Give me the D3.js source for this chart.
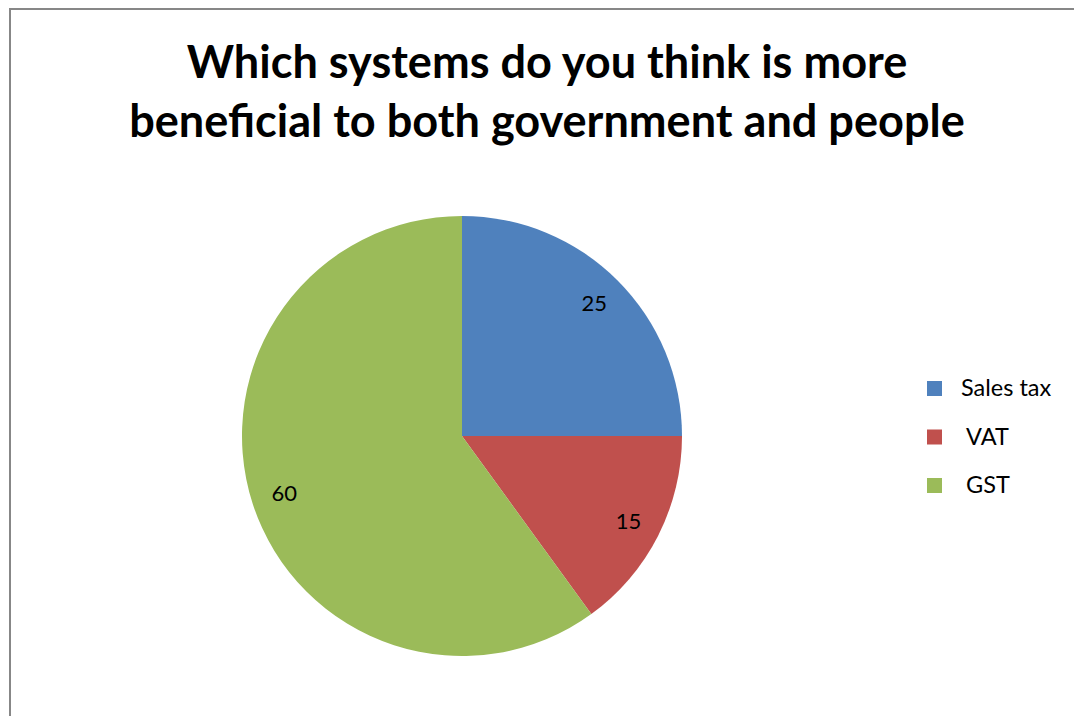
<!DOCTYPE html>
<html>
<head>
<meta charset="utf-8">
<script src="https://cdn.jsdelivr.net/npm/d3@7"></script>
<style>
  html, body { margin: 0; padding: 0; background: #fff; }
  svg { display: block; }
  text { font-family: Lato, "Open Sans", sans-serif; fill: #000; }
</style>
</head>
<body>
<svg id="chart" width="1074" height="716"></svg>
<script>
// Survey answers: which tax system benefits both government and people
const categories = ["Sales tax", "VAT", "GST"];
const values = [25, 15, 60];
const colors = ["#4F81BD", "#C0504D", "#9BBB59"];
const titleLines = ["Which systems do you think is more", "beneficial to both government and people"];

const svg = d3.select("#chart");
const W = 1074, H = 716;

// chart frame
svg.append("rect")
  .attr("x", 10).attr("y", 9)
  .attr("width", W + 20).attr("height", H + 20)
  .attr("fill", "#fff")
  .attr("stroke", "#878787")
  .attr("stroke-width", 2);

// title, two centred lines
const title = svg.append("g");
const titleText = title.selectAll("text")
  .data(titleLines)
  .join("text")
  .attr("x", 547)
  .attr("y", (d, i) => 78 + i * 59)
  .attr("text-anchor", "middle")
  .attr("font-weight", "bold")
  .attr("font-size", 40)
  .text(d => d);
// size the title so the long line spans its full width
const longest = titleText.nodes()[1].getComputedTextLength();
titleText.attr("font-size", 40 * 836 / longest);

// pie
const cx = 462, cy = 436, R = 220;
const pie = d3.pie().sort(null).value(d => d.value);
const data = categories.map((c, i) => ({ name: c, value: values[i], color: colors[i] }));
const arcs = pie(data);
const arc = d3.arc().innerRadius(0).outerRadius(R);
const labelArc = d3.arc().innerRadius(R * 0.85).outerRadius(R * 0.85);

const g = svg.append("g").attr("transform", `translate(${cx},${cy})`);
g.selectAll("path")
  .data(arcs)
  .join("path")
  .attr("d", arc)
  .attr("fill", d => d.data.color);

g.selectAll("text")
  .data(arcs)
  .join("text")
  .attr("transform", d => `translate(${labelArc.centroid(d)})`)
  .attr("text-anchor", "middle")
  .attr("dy", "0.35em")
  .attr("font-size", 22)
  .text(d => d.data.value);

// legend
const legend = svg.append("g").attr("transform", "translate(927,381)");
const item = legend.selectAll("g")
  .data(data)
  .join("g")
  .attr("transform", (d, i) => `translate(0,${i * 48.5})`);
item.append("rect")
  .attr("width", 15).attr("height", 15)
  .attr("fill", d => d.color);
item.append("text")
  .attr("x", (d, i) => i === 0 ? 34 : 39)
  .attr("y", 15)
  .attr("font-size", 23.5)
  .text(d => d.name);
</script>
</body>
</html>
